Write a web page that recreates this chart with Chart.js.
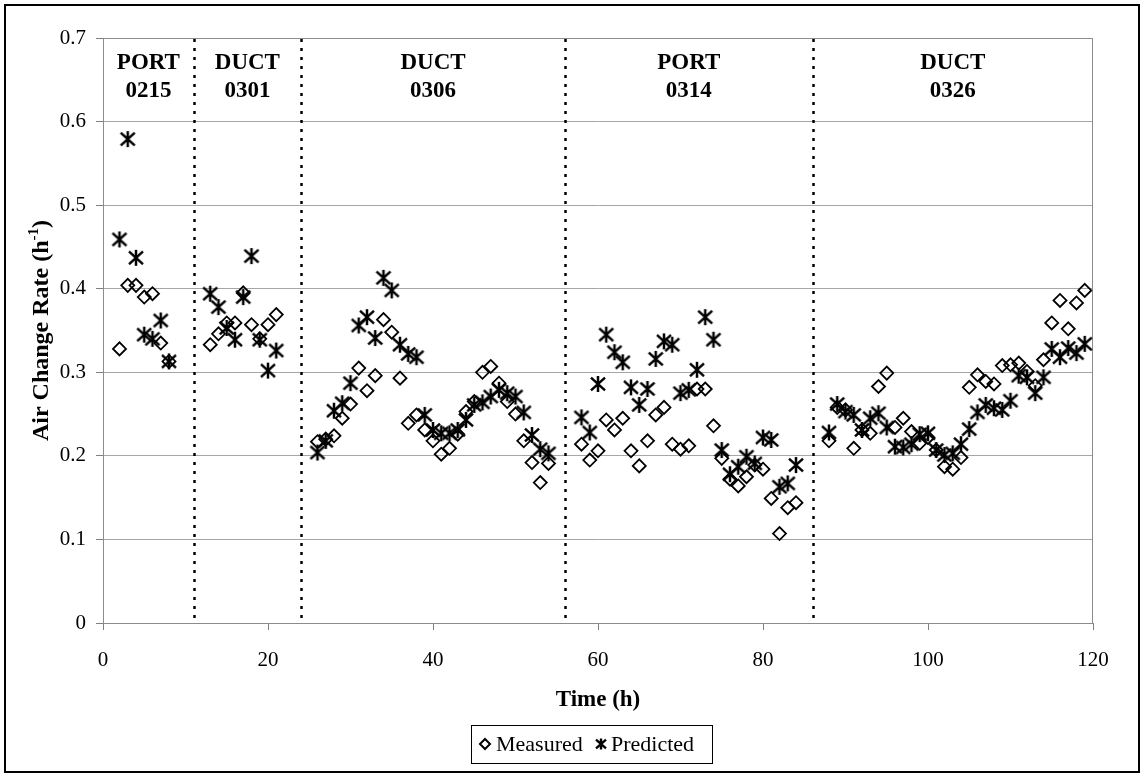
<!DOCTYPE html>
<html>
<head>
<meta charset="utf-8">
<title>Air Change Rate</title>
<script src="https://cdn.jsdelivr.net/npm/chart.js@4/dist/chart.umd.min.js"></script>
<style>
  html, body { margin: 0; padding: 0; background: #ffffff; }
  #wrap { width: 1144px; height: 777px; position: relative; }
  canvas { display: block; }
</style>
</head>
<body>
<div id="wrap"><canvas id="chart" width="1144" height="777"></canvas></div>
<script>
// ---- Test periods (hours since start) ----
const hoursPort0215 = [2, 3, 4, 5, 6, 7, 8];
const measuredPort0215 = [0.328, 0.404, 0.404, 0.390, 0.394, 0.335, 0.313];
const predictedPort0215 = [0.459, 0.579, 0.437, 0.345, 0.340, 0.362, 0.313];

const hoursDuct0301 = [13, 14, 15, 16, 17, 18, 19, 20, 21];
const measuredDuct0301 = [0.333, 0.346, 0.359, 0.359, 0.395, 0.357, 0.340, 0.357, 0.369];
const predictedDuct0301 = [0.394, 0.378, 0.353, 0.339, 0.390, 0.439, 0.339, 0.302, 0.326];

const hoursDuct0306 = [26, 27, 28, 29, 30, 31, 32, 33, 34, 35, 36, 37, 38, 39, 40,
  41, 42, 43, 44, 45, 46, 47, 48, 49, 50, 51, 52, 53, 54];
const measuredDuct0306 = [0.217, 0.220, 0.224, 0.245, 0.262, 0.305, 0.278, 0.296, 0.363, 0.348,
  0.293, 0.239, 0.249, 0.231, 0.218, 0.202, 0.209, 0.226, 0.253, 0.265,
  0.300, 0.307, 0.287, 0.265, 0.250, 0.218, 0.192, 0.168, 0.191];
const predictedDuct0306 = [0.204, 0.218, 0.254, 0.263, 0.287, 0.356, 0.366, 0.341, 0.413, 0.398,
  0.333, 0.322, 0.318, 0.249, 0.231, 0.227, 0.227, 0.231, 0.243, 0.261,
  0.264, 0.271, 0.279, 0.275, 0.271, 0.252, 0.225, 0.208, 0.203];

const hoursPort0314 = [58, 59, 60, 61, 62, 63, 64, 65, 66, 67, 68, 69, 70, 71,
  72, 73, 74, 75, 76, 77, 78, 79, 80, 81, 82, 83, 84];
const measuredPort0314 = [0.214, 0.195, 0.206, 0.243, 0.231, 0.245, 0.206, 0.188, 0.218, 0.249,
  0.258, 0.214, 0.208, 0.212, 0.280, 0.280, 0.236, 0.197, 0.172, 0.164,
  0.175, 0.189, 0.184, 0.149, 0.107, 0.138, 0.144];
const predictedPort0314 = [0.246, 0.228, 0.286, 0.345, 0.324, 0.312, 0.282, 0.261, 0.280, 0.316,
  0.337, 0.333, 0.275, 0.279, 0.303, 0.366, 0.339, 0.207, 0.178, 0.187,
  0.199, 0.191, 0.222, 0.219, 0.163, 0.167, 0.189];

const hoursDuct0326 = [88, 89, 90, 91, 92, 93, 94, 95, 96, 97, 98, 99, 100, 101, 102, 103,
  104, 105, 106, 107, 108, 109, 110, 111, 112, 113, 114, 115, 116, 117, 118, 119];
const measuredDuct0326 = [0.218, 0.258, 0.255, 0.209, 0.231, 0.227, 0.283, 0.299, 0.234, 0.245,
  0.229, 0.215, 0.222, 0.207, 0.187, 0.184, 0.198, 0.282, 0.297, 0.289,
  0.286, 0.308, 0.309, 0.311, 0.301, 0.284, 0.315, 0.359, 0.386, 0.352,
  0.383, 0.398];
const predictedDuct0326 = [0.228, 0.262, 0.253, 0.249, 0.231, 0.245, 0.251, 0.234, 0.211, 0.210,
  0.214, 0.226, 0.227, 0.207, 0.201, 0.203, 0.214, 0.232, 0.252, 0.261,
  0.257, 0.255, 0.266, 0.296, 0.294, 0.275, 0.294, 0.328, 0.318, 0.329,
  0.323, 0.334];

// Boundaries between tests and their labels
const sectionBounds = [11, 24, 56, 86];
const sectionLabels = [['PORT', '0215'], ['DUCT', '0301'], ['DUCT', '0306'], ['PORT', '0314'], ['DUCT', '0326']];

const xTicks = [0, 20, 40, 60, 80, 100, 120];
const yTicks = [0, 0.1, 0.2, 0.3, 0.4, 0.5, 0.6, 0.7];

const SERIF = '"Liberation Serif", "Times New Roman", serif';

function toPoints(hours, values) {
  return hours.map((h, i) => ({ x: h, y: values[i] }));
}
const allHours = [hoursPort0215, hoursDuct0301, hoursDuct0306, hoursPort0314, hoursDuct0326];
const allMeasured = [measuredPort0215, measuredDuct0301, measuredDuct0306, measuredPort0314, measuredDuct0326];
const allPredicted = [predictedPort0215, predictedDuct0301, predictedDuct0306, predictedPort0314, predictedDuct0326];
const measuredPoints = allHours.flatMap((h, i) => toPoints(h, allMeasured[i]));
const predictedPoints = allHours.flatMap((h, i) => toPoints(h, allPredicted[i]));

// Six-armed asterisk marker
function drawStar(ctx, cx, cy, hw, hh, lw) {
  ctx.save();
  ctx.strokeStyle = '#000';
  ctx.lineWidth = lw;
  ctx.lineCap = 'butt';
  ctx.beginPath();
  ctx.moveTo(cx, cy - hh); ctx.lineTo(cx, cy + hh);
  ctx.moveTo(cx - hw, cy - hh * 0.8); ctx.lineTo(cx + hw, cy + hh * 0.8);
  ctx.moveTo(cx - hw, cy + hh * 0.8); ctx.lineTo(cx + hw, cy - hh * 0.8);
  ctx.stroke();
  ctx.restore();
}
function drawDiamond(ctx, cx, cy, r, lw) {
  ctx.save();
  ctx.strokeStyle = '#000';
  ctx.lineWidth = lw;
  ctx.beginPath();
  ctx.moveTo(cx - r, cy); ctx.lineTo(cx, cy - r); ctx.lineTo(cx + r, cy); ctx.lineTo(cx, cy + r);
  ctx.closePath();
  ctx.stroke();
  ctx.restore();
}
const starImg = document.createElement('canvas');
starImg.width = 18; starImg.height = 18;
drawStar(starImg.getContext('2d'), 9, 9, 7, 8, 2.5);

const overlayPlugin = {
  id: 'testOverlay',
  beforeDatasetsDraw(chart) {
    const { ctx, chartArea: a, scales: { x } } = chart;
    ctx.save();
    // plot frame (top and right edges)
    ctx.strokeStyle = '#8c8c8c';
    ctx.lineWidth = 1;
    ctx.strokeRect(Math.round(a.left) + 0.5, Math.round(a.top) + 0.5,
      Math.round(a.right - a.left) - 1, Math.round(a.bottom - a.top));
    // dotted boundaries between tests
    ctx.strokeStyle = '#000';
    ctx.lineWidth = 2.5;
    ctx.setLineDash([3, 6]);
    sectionBounds.forEach(b => {
      const px = Math.round(x.getPixelForValue(b)) + 0.5;
      ctx.beginPath();
      ctx.moveTo(px, a.top + 1);
      ctx.lineTo(px, a.bottom);
      ctx.stroke();
    });
    ctx.setLineDash([]);
    // test names
    const edges = [x.min, ...sectionBounds, x.max];
    ctx.fillStyle = '#000';
    ctx.font = 'bold 23px ' + SERIF;
    ctx.textAlign = 'center';
    ctx.textBaseline = 'alphabetic';
    sectionLabels.forEach((lines, i) => {
      const cx = x.getPixelForValue((edges[i] + edges[i + 1]) / 2);
      ctx.fillText(lines[0], cx, a.top + 31);
      ctx.fillText(lines[1], cx, a.top + 59);
    });
    ctx.restore();
  },
  afterDraw(chart) {
    const { ctx, chartArea: a } = chart;
    ctx.save();
    // outer frame
    ctx.strokeStyle = '#000';
    ctx.lineWidth = 2;
    ctx.strokeRect(5, 5, 1134, 767);

    // x-axis title
    ctx.fillStyle = '#000';
    ctx.font = 'bold 23px ' + SERIF;
    ctx.textAlign = 'center';
    ctx.textBaseline = 'middle';
    ctx.fillText('Time (h)', (a.left + a.right) / 2, 700);

    // y-axis title with superscript
    ctx.translate(40, (a.top + a.bottom) / 2);
    ctx.rotate(-Math.PI / 2);
    const main = 'Air Change Rate (h';
    const sup = '-1';
    const close = ')';
    ctx.font = 'bold 24px ' + SERIF;
    const wMain = ctx.measureText(main).width;
    const wClose = ctx.measureText(close).width;
    ctx.font = 'bold 15px ' + SERIF;
    const wSup = ctx.measureText(sup).width;
    const total = wMain + wSup + wClose;
    let px = -total / 2;
    ctx.textAlign = 'left';
    ctx.textBaseline = 'alphabetic';
    ctx.font = 'bold 24px ' + SERIF;
    ctx.fillText(main, px, 8);
    px += wMain;
    ctx.font = 'bold 15px ' + SERIF;
    ctx.fillText(sup, px, -2);
    px += wSup;
    ctx.font = 'bold 24px ' + SERIF;
    ctx.fillText(close, px, 8);
    ctx.setTransform(1, 0, 0, 1, 0, 0);

    // legend
    const bx = 471, by = 725, bw = 241, bh = 38;
    ctx.strokeStyle = '#000';
    ctx.lineWidth = 1;
    ctx.strokeRect(bx + 0.5, by + 0.5, bw, bh);
    const ly = by + bh / 2;
    drawDiamond(ctx, 485, ly, 5, 2);
    drawStar(ctx, 601, ly, 5, 5.5, 2.4);
    ctx.fillStyle = '#000';
    ctx.font = '22px ' + SERIF;
    ctx.textAlign = 'left';
    ctx.textBaseline = 'middle';
    ctx.fillText('Measured', 496, ly + 1);
    ctx.fillText('Predicted', 611, ly + 1);
    ctx.restore();
  }
};

new Chart(document.getElementById('chart'), {
  type: 'scatter',
  data: {
    datasets: [
      {
        label: 'Predicted',
        data: predictedPoints,
        pointStyle: starImg,
        pointRadius: 7,
        order: 0
      },
      {
        label: 'Measured',
        data: measuredPoints,
        pointStyle: 'rectRot',
        pointRadius: 6.5,
        borderWidth: 1.8,
        borderColor: '#000',
        backgroundColor: 'rgba(0,0,0,0)',
        order: 1
      }
    ]
  },
  options: {
    responsive: false,
    devicePixelRatio: 1,
    animation: false,
    events: [],
    layout: { padding: { top: 38, right: 51, left: 0, bottom: 0 } },
    plugins: {
      legend: { display: false },
      tooltip: { enabled: false },
      title: { display: false }
    },
    elements: { point: { hoverRadius: 0 } },
    scales: {
      x: {
        type: 'linear',
        min: 0, max: 120,
        afterFit(s) { s.height = 154; },
        afterBuildTicks(s) { s.ticks = xTicks.map(v => ({ value: v })); },
        ticks: {
          color: '#000',
          font: { family: SERIF, size: 21 },
          padding: 18,
          maxRotation: 0
        },
        grid: {
          drawOnChartArea: false,
          drawTicks: true,
          tickLength: 7,
          tickColor: '#808080'
        },
        border: { color: '#8c8c8c', width: 1 }
      },
      y: {
        type: 'linear',
        min: 0, max: 0.7,
        afterFit(s) { s.width = 103; },
        afterBuildTicks(s) { s.ticks = yTicks.map(v => ({ value: v })); },
        ticks: {
          color: '#000',
          font: { family: SERIF, size: 21 },
          padding: 10,
          callback: v => (v === 0 ? '0' : Number(v).toFixed(1))
        },
        grid: {
          color: '#a6a6a6',
          lineWidth: 1,
          tickLength: 7,
          tickColor: '#808080'
        },
        border: { color: '#8c8c8c', width: 1 }
      }
    }
  },
  plugins: [overlayPlugin]
});
</script>
</body>
</html>
